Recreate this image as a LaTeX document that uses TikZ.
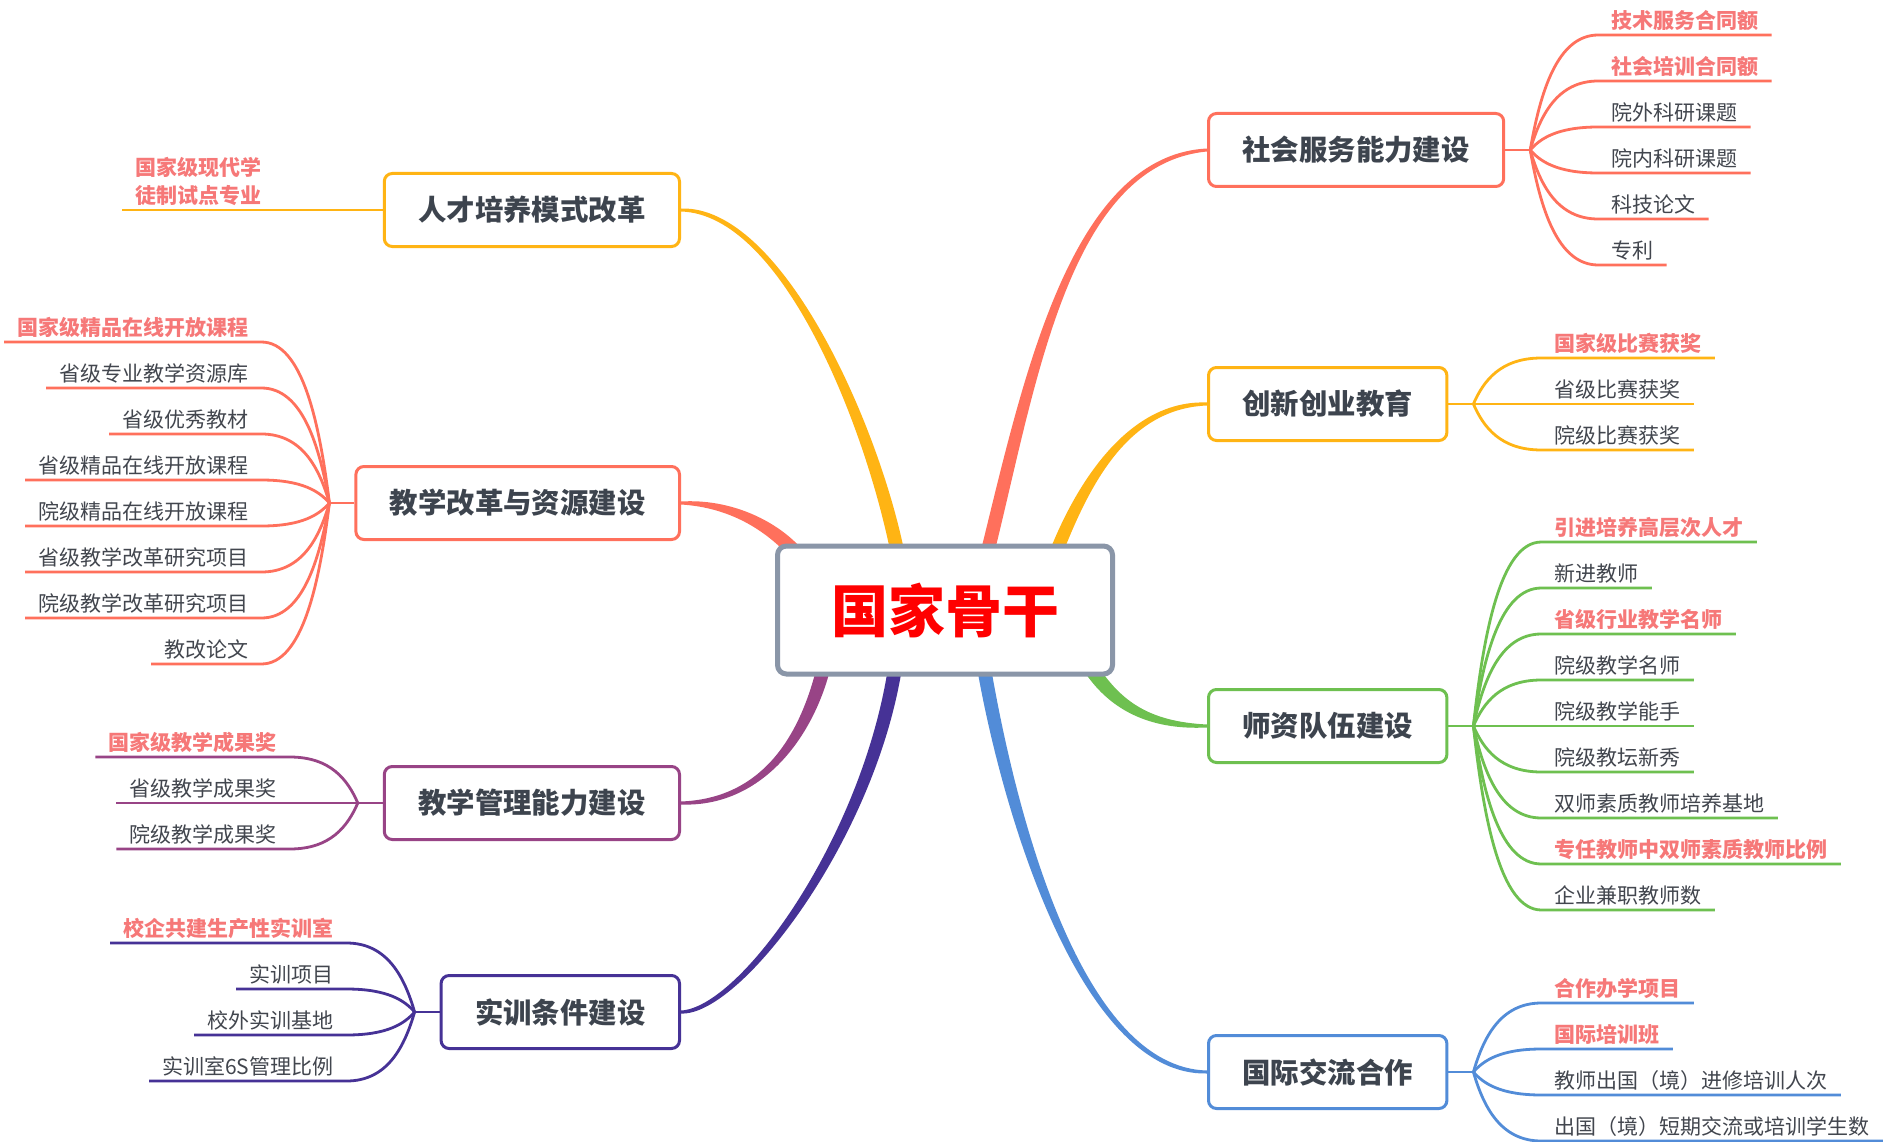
\documentclass[tikz,border=0pt]{standalone}
\usepackage{fontspec}
\setmainfont{Noto Sans CJK SC}
\usetikzlibrary{calc}
\pgfdeclarelayer{bg}
\pgfsetlayers{bg,main}
\definecolor{cred}{RGB}{255,112,92}
\definecolor{cyel}{RGB}{255,180,20}
\definecolor{cgrn}{RGB}{110,192,80}
\definecolor{cblu}{RGB}{82,140,216}
\definecolor{cpur}{RGB}{152,68,134}
\definecolor{cind}{RGB}{70,50,150}
\definecolor{cgray}{RGB}{138,150,168}
\definecolor{ctext}{RGB}{61,68,78}
\definecolor{cleaf}{RGB}{66,70,78}
\definecolor{chl}{RGB}{246,120,120}
\tikzset{
  topic/.style={draw, line width=3pt, rounded corners=8pt, fill=white, minimum height=73pt, inner xsep=34pt, text=ctext, font=\fontsize{28.4pt}{34pt}\selectfont\bfseries},
  leafnm/.style={inner xsep=13pt, inner ysep=0pt, text depth=6pt, text=cleaf, font=\fontsize{21pt}{28pt}\selectfont},
  leafhl/.style={leafnm, text=chl, font=\fontsize{21pt}{28pt}\selectfont\bfseries},
  twig/.style={line width=2.8pt},
  core/.style={draw=cgray, line width=5pt, rounded corners=9pt, fill=white, minimum width=335pt, minimum height=128pt, text=red, font=\fontsize{57pt}{64pt}\selectfont\bfseries}
}
% tapered branch: #1 colour, #2 start, #3 ctrl1 rel start, #4 ctrl2 rel end, #5 end, #6 start offset, #7 end offset
\newcommand\branch[7]{%
  \fill[#1] ($#2+#6$) .. controls ($#2+#6+#3$) and ($#5+3*#7+#4$) .. ($#5+#7$) -- ($#5-#7$) .. controls ($#5-3*#7+#4$) and ($#2-#6+#3$) .. ($#2-#6$) -- cycle;}
\newcommand\rleaf[6]{%
  \node[#5, anchor=south west] (#3) at ($(#2)+(68,#4)$) {#6};
  \draw[twig, #1] (#2) .. controls +(10,{0.5*(#4)}) and +(-41,0) .. (#3.south west) -- (#3.south east);}
\newcommand\lleaf[6]{%
  \node[#5, anchor=south east] (#3) at ($(#2)+(-68,#4)$) {#6};
  \draw[twig, #1] (#2) .. controls +(-10,{0.5*(#4)}) and +(41,0) .. (#3.south east) -- (#3.south west);}
\begin{document}
\begin{tikzpicture}[x=1pt,y=-1pt]
\begin{pgfonlayer}{bg}
\fill[white] (0,0) rectangle (1884,1142);
\end{pgfonlayer}
\useasboundingbox (0,0) rectangle (1884,1142);

\node[core] (ctr) at (945,610) {国家骨干};

\node[topic, draw=cred, anchor=west] (n1) at (1207,150) {社会服务能力建设};
\node[topic, draw=cyel, anchor=west] (n2) at (1207,404) {创新创业教育};
\node[topic, draw=cgrn, anchor=west] (n3) at (1207,726) {师资队伍建设};
\node[topic, draw=cblu, anchor=west] (n4) at (1207,1072) {国际交流合作};
\node[topic, draw=cyel, anchor=east] (n5) at (681,210) {人才培养模式改革};
\node[topic, draw=cred, anchor=east] (n6) at (681,503) {教学改革与资源建设};
\node[topic, draw=cpur, anchor=east] (n7) at (681,803) {教学管理能力建设};
\node[topic, draw=cind, anchor=east] (n8) at (681,1012) {实训条件建设};

\coordinate (s1) at ($(ctr.center)+(43,-60)$);
\coordinate (s2) at ($(ctr.center)+(112,-60)$);
\coordinate (s3) at ($(ctr.center)+(143,54)$);
\coordinate (s4) at ($(ctr.center)+(38,52)$);
\coordinate (s5) at ($(ctr.center)+(-48,-60)$);
\coordinate (s6) at ($(ctr.center)+(-150,-58)$);
\coordinate (s7) at ($(ctr.center)+(-122,60)$);
\coordinate (s8) at ($(ctr.center)+(-50,58)$);

\begin{pgfonlayer}{bg}
\branch{cred}{(s1)}{(42,-170)}{(-137,10)}{(n1.west)}{(7,0)}{(0,1.5)}
\branch{cyel}{(s2)}{(28,-70)}{(-77,0)}{(n2.west)}{(7,0)}{(0,1.5)}
\branch{cgrn}{(s3)}{(25,40)}{(-60,0)}{(n3.west)}{(6,-4)}{(0,-1.5)}
\branch{cblu}{(s4)}{(25,148)}{(-127,0)}{(n4.west)}{(7,0)}{(0,-1.5)}
\branch{cyel}{(s5)}{(-27,-130)}{(100,0)}{(n5.east)}{(7,0)}{(0,-1.5)}
\branch{cred}{(s6)}{(-25,-27)}{(49,0)}{(n6.east)}{(5,-5)}{(0,-1.5)}
\branch{cpur}{(s7)}{(-18,70)}{(79,0)}{(n7.east)}{(7,0)}{(0,1.5)}
\branch{cind}{(s8)}{(-27,172)}{(59,0)}{(n8.east)}{(7,0)}{(0,1.5)}
\end{pgfonlayer}

\coordinate (f1) at ($(n1.east)+(25,0)$);
\coordinate (f2) at ($(n2.east)+(25,0)$);
\coordinate (f3) at ($(n3.east)+(25,0)$);
\coordinate (f4) at ($(n4.east)+(25,0)$);
\coordinate (f5) at ($(n5.west)+(-25,0)$);
\coordinate (f6) at ($(n6.west)+(-25,0)$);
\coordinate (f7) at ($(n7.west)+(-25,0)$);
\coordinate (f8) at ($(n8.west)+(-25,0)$);
\draw[twig, cred] (n1.east) -- (f1);
\draw[twig, cyel] (n2.east) -- (f2);
\draw[twig, cgrn] (n3.east) -- (f3);
\draw[twig, cblu] (n4.east) -- (f4);
\draw[twig, cyel] (n5.west) -- (f5);
\draw[twig, cred] (n6.west) -- (f6);
\draw[twig, cpur] (n7.west) -- (f7);
\draw[twig, cind] (n8.west) -- (f8);

% social service
\rleaf{cred}{f1}{a1}{-115}{leafhl}{技术服务合同额}
\rleaf{cred}{f1}{a2}{-69}{leafhl}{社会培训合同额}
\rleaf{cred}{f1}{a3}{-23}{leafnm}{院外科研课题}
\rleaf{cred}{f1}{a4}{23}{leafnm}{院内科研课题}
\rleaf{cred}{f1}{a5}{69}{leafnm}{科技论文}
\rleaf{cred}{f1}{a6}{115}{leafnm}{专利}
% innovation
\rleaf{cyel}{f2}{b1}{-46}{leafhl}{国家级比赛获奖}
\rleaf{cyel}{f2}{b2}{0}{leafnm}{省级比赛获奖}
\rleaf{cyel}{f2}{b3}{46}{leafnm}{院级比赛获奖}
% teachers
\rleaf{cgrn}{f3}{c1}{-184}{leafhl}{引进培养高层次人才}
\rleaf{cgrn}{f3}{c2}{-138}{leafnm}{新进教师}
\rleaf{cgrn}{f3}{c3}{-92}{leafhl}{省级行业教学名师}
\rleaf{cgrn}{f3}{c4}{-46}{leafnm}{院级教学名师}
\rleaf{cgrn}{f3}{c5}{0}{leafnm}{院级教学能手}
\rleaf{cgrn}{f3}{c6}{46}{leafnm}{院级教坛新秀}
\rleaf{cgrn}{f3}{c7}{92}{leafnm}{双师素质教师培养基地}
\rleaf{cgrn}{f3}{c8}{138}{leafhl}{专任教师中双师素质教师比例}
\rleaf{cgrn}{f3}{c9}{184}{leafnm}{企业兼职教师数}
% international
\rleaf{cblu}{f4}{d1}{-69}{leafhl}{合作办学项目}
\rleaf{cblu}{f4}{d2}{-23}{leafhl}{国际培训班}
\rleaf{cblu}{f4}{d3}{23}{leafnm}{教师出国（境）进修培训人次}
\rleaf{cblu}{f4}{d4}{69}{leafnm}{出国（境）短期交流或培训学生数}
% talent mode
\node[leafhl, anchor=south east] (e1) at ($(f5)+(-83,0)$) {\begin{tabular}[b]{@{}l@{}}国家级现代学\\徒制试点专业\end{tabular}};
\draw[twig, cyel] (f5) -- (e1.south east) -- (e1.south west);
% teaching reform
\lleaf{cred}{f6}{g1}{-161}{leafhl}{国家级精品在线开放课程}
\lleaf{cred}{f6}{g2}{-115}{leafnm}{省级专业教学资源库}
\lleaf{cred}{f6}{g3}{-69}{leafnm}{省级优秀教材}
\lleaf{cred}{f6}{g4}{-23}{leafnm}{省级精品在线开放课程}
\lleaf{cred}{f6}{g5}{23}{leafnm}{院级精品在线开放课程}
\lleaf{cred}{f6}{g6}{69}{leafnm}{省级教学改革研究项目}
\lleaf{cred}{f6}{g7}{115}{leafnm}{院级教学改革研究项目}
\lleaf{cred}{f6}{g8}{161}{leafnm}{教改论文}
% management
\lleaf{cpur}{f7}{h1}{-46}{leafhl}{国家级教学成果奖}
\lleaf{cpur}{f7}{h2}{0}{leafnm}{省级教学成果奖}
\lleaf{cpur}{f7}{h3}{46}{leafnm}{院级教学成果奖}
% training
\lleaf{cind}{f8}{k1}{-69}{leafhl}{校企共建生产性实训室}
\lleaf{cind}{f8}{k2}{-23}{leafnm}{实训项目}
\lleaf{cind}{f8}{k3}{23}{leafnm}{校外实训基地}
\lleaf{cind}{f8}{k4}{69}{leafnm}{实训室6S管理比例}
\end{tikzpicture}
\end{document}
